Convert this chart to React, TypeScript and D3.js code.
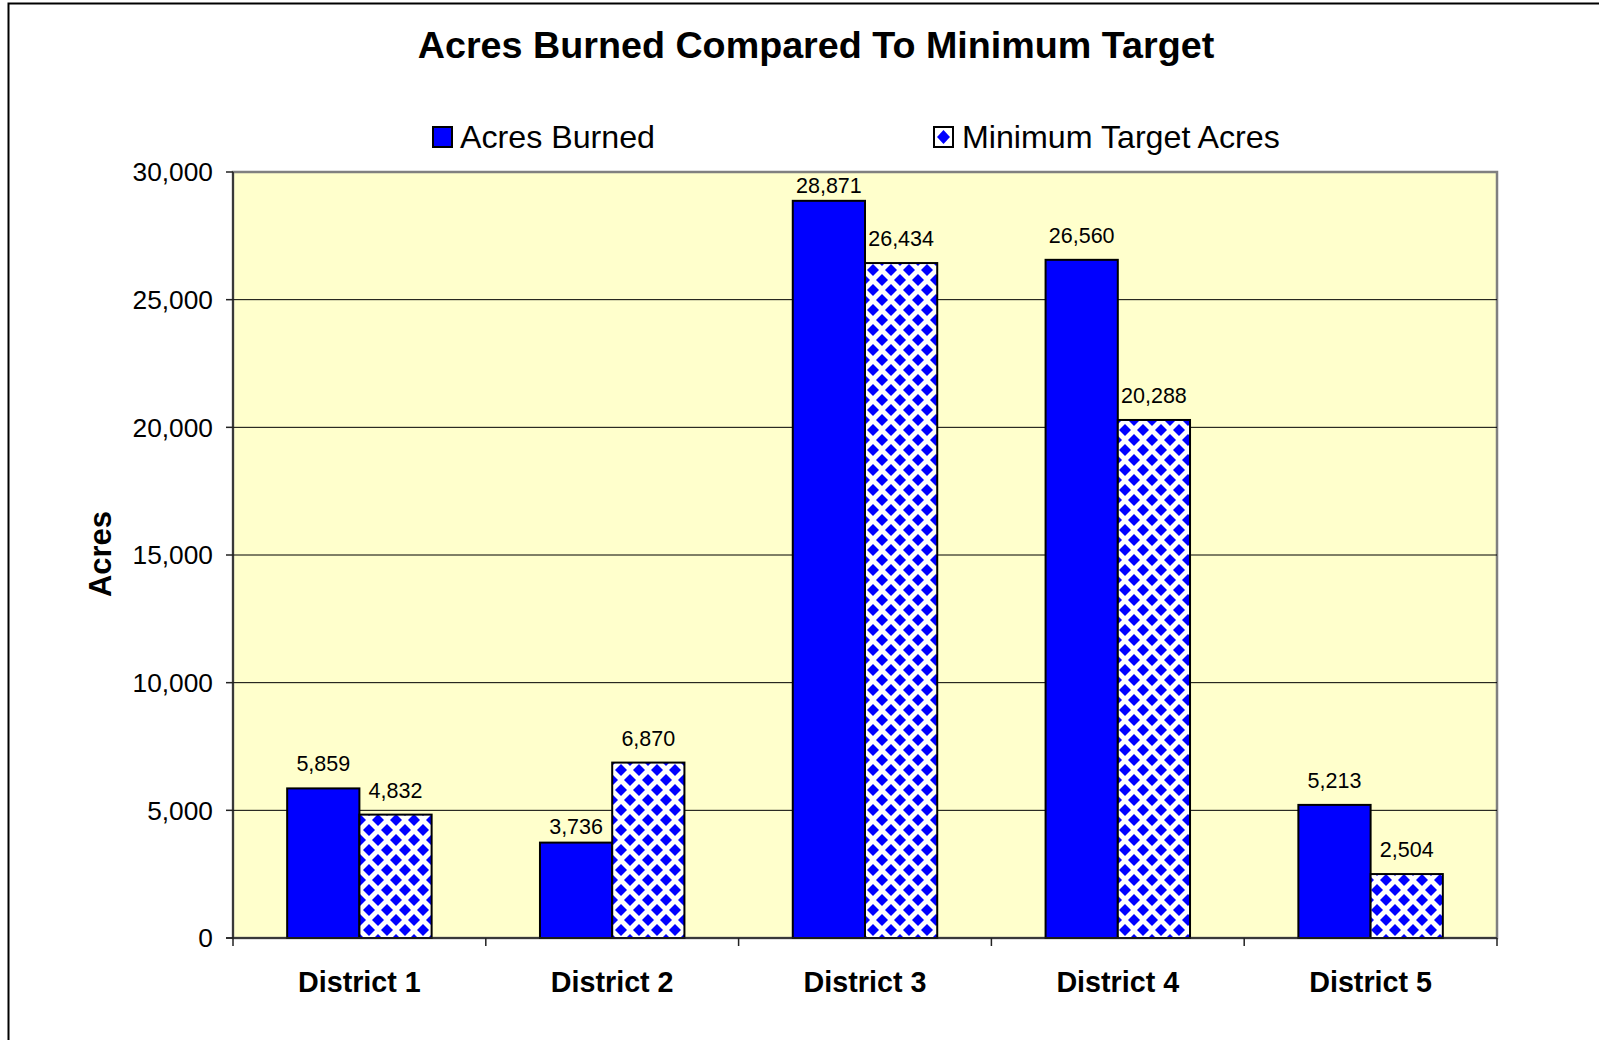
import React from "react";
import * as d3 from "d3";

const categories = ["District 1", "District 2", "District 3", "District 4", "District 5"];
const seriesNames = ["Acres Burned", "Minimum Target Acres"];
const acresBurned = [5859, 3736, 28871, 26560, 5213];
const minimumTarget = [4832, 6870, 26434, 20288, 2504];
const yTicks = [0, 5000, 10000, 15000, 20000, 25000, 30000];

const W = 1599;
const H = 1040;
const PL = 233, PR = 1497, PT = 172, PB = 938;
const FONT = "'Liberation Sans', Arial, Helvetica, sans-serif";
const BLUE = "#0000FF";
// label placement nudges (layout only), per series / category
const LABEL_NUDGE = [[0, 8, 0, 0, 0], [0, 0, 0, 0, 0]];

export default function App() {
  const x = d3.scaleBand<string>().domain(categories).range([PL, PR]).paddingInner(0).paddingOuter(0);
  const y = d3.scaleLinear().domain([0, 30000]).range([PB, PT]);
  const bw = x.bandwidth() / 3.5;
  const inner = d3.scaleBand<number>().domain([0, 1]).range([0.75 * bw, 2.75 * bw]);
  const fmt = d3.format(",");
  const series = [acresBurned, minimumTarget];
  const TW = 18;
  const TH = 20;
  const r = 6;
  const diamond = (cx: number, cy: number) =>
    `M${cx},${cy - r}L${cx + r},${cy}L${cx},${cy + r}L${cx - r},${cy}Z`;

  return (
    <div style={{ position: "absolute", left: 0, top: 0, width: W, height: H, background: "#fff" }}>
      <svg width={W} height={H} style={{ display: "block" }}>
        <defs>
          <pattern id="diam" patternUnits="userSpaceOnUse" width={TW} height={TH} x={0} y={0}>
            <rect width={TW} height={TH} fill="#fff" />
            <g fill={BLUE}>
              <path d={diamond(0, 0)} />
              <path d={diamond(TW, 0)} />
              <path d={diamond(0, TH)} />
              <path d={diamond(TW, TH)} />
              <path d={diamond(TW / 2, TH / 2)} />
            </g>
          </pattern>
        </defs>
        <rect width={W} height={H} fill="#fff" />
        <path d={`M8.5,${H}V3.5H${W}`} fill="none" stroke="#000" strokeWidth={2} />

        <text x={816} y={58} textAnchor="middle" fontFamily={FONT} fontWeight="bold" fontSize={37.7} fill="#000">
          Acres Burned Compared To Minimum Target
        </text>

        {/* legend */}
        <rect x={433} y={127} width={19} height={20} fill={BLUE} stroke="#000" strokeWidth={2} />
        <text x={460} y={148} fontFamily={FONT} fontSize={32.2} fill="#000">{seriesNames[0]}</text>
        <rect x={934} y={127} width={19} height={20} fill="#fff" stroke="#000" strokeWidth={2} />
        <path d={`M943.5,130L950,137L943.5,144L937,137Z`} fill={BLUE} />
        <text x={962} y={148} fontFamily={FONT} fontSize={32.2} fill="#000">{seriesNames[1]}</text>

        {/* plot area */}
        <rect x={PL} y={PT} width={PR - PL} height={PB - PT} fill="#FFFFCC" stroke="#808080" strokeWidth={2.5} />
        {yTicks.filter((t) => t > 0 && t < 30000).map((t) => (
          <line key={t} x1={PL} x2={PR} y1={y(t)} y2={y(t)} stroke="#000" strokeWidth={1} />
        ))}

        {/* bars */}
        {categories.map((c, i) => (
          <g key={c}>
            {series.map((s, k) => (
              <rect
                key={k}
                x={(x(c) as number) + (inner(k) as number)}
                y={y(s[i])}
                width={inner.bandwidth()}
                height={PB - y(s[i])}
                fill={k === 0 ? BLUE : "url(#diam)"}
                stroke="#000"
                strokeWidth={2}
              />
            ))}
            {series.map((s, k) => (
              <text
                key={"l" + k}
                x={(x(c) as number) + (inner(k) as number) + inner.bandwidth() / 2}
                y={Math.max(y(s[i]) - 17 + LABEL_NUDGE[k][i], PT + 21)}
                textAnchor="middle"
                fontFamily={FONT}
                fontSize={21.5}
                fill="#000"
              >
                {fmt(s[i])}
              </text>
            ))}
          </g>
        ))}

        {/* axes */}
        <line x1={PL} x2={PL} y1={PT} y2={PB} stroke="#222" strokeWidth={1.5} />
        <line x1={PL - 7} x2={PR} y1={PB} y2={PB} stroke="#222" strokeWidth={1.5} />
        {yTicks.map((t) => (
          <g key={t}>
            <line x1={PL - 7} x2={PL} y1={y(t)} y2={y(t)} stroke="#222" strokeWidth={1.5} />
            <text x={213} y={y(t)} dy="0.35em" textAnchor="end" fontFamily={FONT} fontSize={26.3} fill="#000">
              {fmt(t)}
            </text>
          </g>
        ))}
        {[...categories.map((c) => x(c) as number), PR].map((xv, i) => (
          <line key={i} x1={xv} x2={xv} y1={PB} y2={PB + 8} stroke="#222" strokeWidth={1.5} />
        ))}
        {categories.map((c) => (
          <text
            key={c}
            x={(x(c) as number) + x.bandwidth() / 2}
            y={992}
            textAnchor="middle"
            fontFamily={FONT}
            fontWeight="bold"
            fontSize={28.7}
            fill="#000"
          >
            {c}
          </text>
        ))}
        <text
          transform={`translate(111,554) rotate(-90)`}
          textAnchor="middle"
          fontFamily={FONT}
          fontWeight="bold"
          fontSize={31}
          fill="#000"
        >
          Acres
        </text>
      </svg>
    </div>
  );
}
